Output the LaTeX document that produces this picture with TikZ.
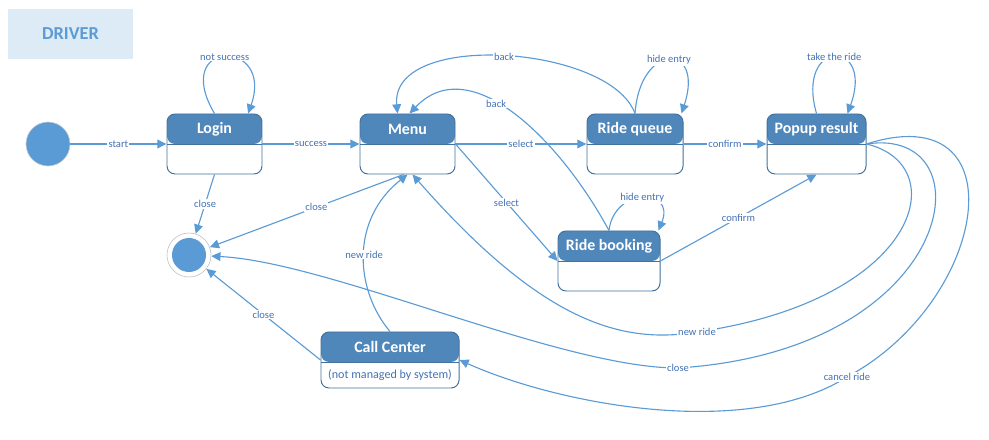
\documentclass[tikz,border=0pt]{standalone}
\usepackage{fontspec}
\setmainfont{Carlito}
\usetikzlibrary{arrows.meta}
\definecolor{lineblue}{RGB}{91,155,213}
\definecolor{hdrblue}{RGB}{79,135,186}
\definecolor{edgeblue}{RGB}{65,113,156}
\definecolor{textblue}{RGB}{68,114,180}
\definecolor{titlebg}{RGB}{221,235,247}
\begin{document}
\begin{tikzpicture}[x=0.25mm,y=-0.25mm,
  statebox/.style={draw=edgeblue,line width=0.7pt,fill=white,rounded corners=2mm,
    minimum width=#1,minimum height=15mm,inner sep=0pt,
    path picture={
      \fill[hdrblue] (path picture bounding box.north west) rectangle ([yshift=-7.5mm]path picture bounding box.north east);
      \draw[edgeblue,line width=0.7pt] ([yshift=-7.5mm]path picture bounding box.north west) -- ([yshift=-7.5mm]path picture bounding box.north east);}},
  hdrtext/.style={text=white,font=\fontsize{11.3}{13}\selectfont\bfseries},
  bodytext/.style={text=textblue,font=\fontsize{8.6}{10}\selectfont},
  lbl/.style={fill=white,inner sep=0.8pt,text=textblue,font=\fontsize{7.5}{9}\selectfont},
  trans/.style={draw=lineblue,line width=0.8pt,-{Triangle[length=2.3mm,width=2.2mm]}}]
  \useasboundingbox (0,0) rectangle (989,440);
  % title
  \node[fill=titlebg,minimum width=31.25mm,minimum height=12.5mm,text=lineblue,
    font=\fontsize{13}{15}\selectfont\bfseries] (driver) at (70.5,34) {DRIVER};
  % start and end
  \node[circle,fill=lineblue,draw=black!20,minimum size=11mm,inner sep=0pt] (init) at (48,144) {};
  \node[circle,draw=black!25,fill=white,minimum size=11mm,inner sep=0pt,
    path picture={\fill[lineblue] (path picture bounding box.center) circle (4.25mm);}] (final) at (189,255) {};
  % states
  \node[statebox=23.75mm,label={[hdrtext,yshift=3.75mm]center:Login}] (login) at (214.5,144) {};
  \node[statebox=23.75mm,label={[hdrtext,yshift=3.75mm]center:Menu}] (menu) at (407.5,144) {};
  \node[statebox=24mm,label={[hdrtext,yshift=3.75mm]center:Ride queue}] (queue) at (635,144) {};
  \node[statebox=24.75mm,label={[hdrtext,yshift=3.75mm]center:Popup result}] (popup) at (816.5,144) {};
  \node[statebox=25.5mm,label={[hdrtext,yshift=3.75mm]center:Ride booking}] (booking) at (609,261) {};
  \node[statebox=34.5mm,minimum height=14mm,
    label={[hdrtext,yshift=3.25mm]center:Call Center},
    label={[bodytext,yshift=-3.75mm]center:{(not managed by system)}}] (callc) at (390,360) {};
  % straight transitions
  \draw[trans] (init) -- node[lbl]{start} (login.west);
  \draw[trans] (login.east) -- node[lbl]{success} (menu.west);
  \draw[trans] (menu.east) -- node[lbl]{select} (queue.west);
  \draw[trans] (queue.east) -- node[lbl]{confirm} (popup.west);
  \draw[trans] (menu.east) -- node[lbl]{select} (booking.west);
  \draw[trans] (booking.east) -- node[lbl]{confirm} (popup.south);
  \draw[trans] (login.south) -- node[lbl]{close} (final);
  \draw[trans] ([xshift=-1mm]menu.south) -- node[lbl,pos=.45]{close} (final);
  \draw[trans] (callc.west) -- node[lbl]{close} (final);
  % self loops
  \draw[trans] (login.north) .. controls (170,38) and (275,38) .. ([xshift=8.4mm]login.north) node[lbl,pos=.5]{not success};
  \draw[trans] (queue.north) .. controls (640,42) and (705,42) .. ([xshift=-0.5mm]queue.north east) node[lbl,pos=.5]{hide entry};
  \draw[trans] (booking.north) .. controls (614,187) and (676,187) .. ([xshift=-0.5mm]booking.north east) node[lbl,pos=.5]{hide entry};
  \draw[trans] (popup.north) .. controls (795,38) and (875,38) .. ([xshift=7.75mm]popup.north) node[lbl,pos=.5]{take the ride};
  % back to menu
  \draw[trans] (queue.north) .. controls (610,45) and (390,30) .. ([xshift=-2.5mm]menu.north) node[lbl,pos=.5]{back};
  \draw[trans] (booking.north) .. controls (560,140) and (470,50) .. ([xshift=0.5mm]menu.north) node[lbl,pos=.58]{back};
  \draw[trans] (callc.north) .. controls (355,290) and (350,220) .. (menu.south) node[lbl,pos=.5]{new ride};
  % from popup result
  \draw[trans] (popup.east) .. controls (955,165) and (920,300) .. (697,332) node[lbl]{new ride}
    .. controls (620,345) and (540,320) .. ([xshift=1.25mm]menu.south);
  \draw[trans] (popup.east) .. controls (990,125) and (960,350) .. (678,368) node[lbl]{close}
    .. controls (560,368) and (330,262) .. (final);
  \draw[trans] (popup.east) .. controls (1020,95) and (990,300) .. (847,377) node[lbl]{cancel ride}
    .. controls (747,440) and (560,405) .. (callc.east);
\end{tikzpicture}
\end{document}
